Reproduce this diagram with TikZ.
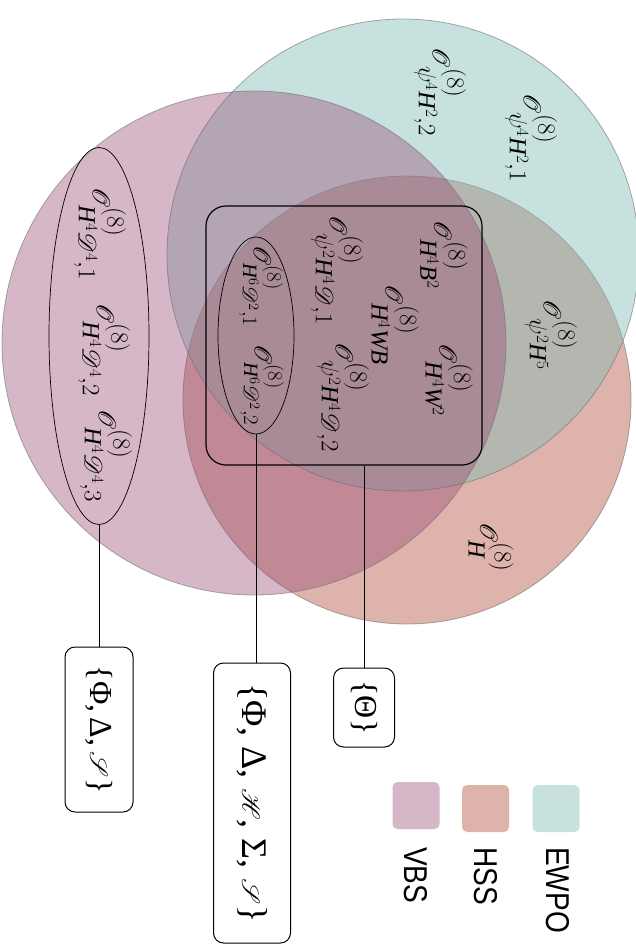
\documentclass[tikz,border=0pt]{standalone}
\usepackage{amsmath}
\usepackage{mathrsfs}
\usepackage{fontspec}
\setmainfont{Liberation Serif}
\usetikzlibrary{shapes.geometric}
\newfontfamily\legendfont[FakeStretch=0.85]{Liberation Sans}
\definecolor{vbscol}{RGB}{150,75,117}
\definecolor{hsscol}{RGB}{172,67,47}
\definecolor{ewpocol}{RGB}{132,190,182}
\newcommand{\opsize}{\fontsize{35}{37}\selectfont}
\newcommand{\Oop}[1]{$\mathscr{O}^{(8)}_{#1}$}
\newcommand{\Hv}{\mathit{H}}
\newcommand{\Dv}{\mathscr{D}}
\begin{document}
\begin{tikzpicture}[x=1pt,y=-1pt,
  setdisc/.style={draw=black!55, draw opacity=0.6, line width=0.8pt},
  oplabel/.style={rotate=-90, font=\opsize, inner sep=0pt},
  smallop/.style={rotate=-90, font=\fontsize{29}{31}\selectfont, inner sep=0pt},
  group/.style={draw, ellipse, line width=0.7pt, inner sep=0pt},
  setbox/.style={draw, rotate=-90, rounded corners=10pt, line width=1pt, font=\fontsize{32}{34}\selectfont, inner sep=2pt},
  legsq/.style={rounded corners=5pt, minimum size=47pt, inner sep=0pt},
  leglab/.style={rotate=-90, anchor=west, inner sep=0pt, font=\legendfont\fontsize{33}{35}\selectfont}]
\useasboundingbox (0,0) rectangle (636,945);
\fill[white] (0,0) rectangle (636,945);

% the three sets, HSS below EWPO below VBS
\path[setdisc, fill=hsscol, fill opacity=0.4] (407,400) circle[radius=224];
\path[setdisc, fill=ewpocol, fill opacity=0.45] (403,255) circle[radius=236];
\path[setdisc, fill=vbscol, fill opacity=0.4] (254,343) circle[radius=252];

% common core and the two groups
\node[draw, line width=1.2pt, rounded corners=20pt, minimum width=276pt, minimum height=259pt] (core) at (344,335.5) {};
\node[group, minimum width=100pt, minimum height=377pt] (dgroup) at (99,336) {};
\node[group, minimum width=76pt, minimum height=197pt] (hgroup) at (256,335.5) {};

% operators
\node[oplabel] (o1) at (440,92) {\Oop{\psi^4\Hv^2,2}};
\node[oplabel] (o2) at (531,138) {\Oop{\psi^4\Hv^2,1}};
\node[oplabel] (o3) at (100,234) {\Oop{\Hv^4\Dv^4,1}};
\node[oplabel] (o4) at (104,350) {\Oop{\Hv^4\Dv^4,2}};
\node[oplabel] (o5) at (106,456) {\Oop{\Hv^4\Dv^4,3}};
\node[oplabel] (o6) at (444,255) {\Oop{\Hv^4\mathit{B}^2}};
\node[oplabel] (o7) at (395,325) {\Oop{\Hv^4\mathit{WB}}};
\node[oplabel] (o8) at (337,270) {\Oop{\psi^2\Hv^4\Dv,1}};
\node[oplabel] (o9) at (449,380) {\Oop{\Hv^4\mathit{W}^2}};
\node[oplabel] (o10) at (343,397) {\Oop{\psi^2\Hv^4\Dv,2}};
\node[smallop] (o11) at (261,286) {\Oop{\Hv^6\Dv^2,1}};
\node[smallop] (o12) at (262,385) {\Oop{\Hv^6\Dv^2,2}};
\node[oplabel] (o13) at (551,335) {\Oop{\psi^2\Hv^5}};
\node[oplabel] (o14) at (491,547) {\Oop{\Hv}};

% parameter sets
\node[setbox, minimum width=165pt, minimum height=68pt] (pA) at (99,729.5) {\{Φ,\,Δ,\,$\mathscr{S}$\}};
\node[setbox, minimum width=280pt, minimum height=77pt, font=\fontsize{36}{38}\selectfont] (pB) at (252,803) {\{Φ,\;Δ,\;$\mathscr{H}$,\;Σ,\;$\mathscr{S}$\}};
\node[setbox, minimum width=79pt, minimum height=61pt] (pC) at (364,707.5) {\{Θ\}};

\draw[line width=1pt] (dgroup.south) -- (dgroup.south |- pA.west);
\draw[line width=1pt] (hgroup.south) -- (hgroup.south |- pB.west);
\draw[line width=1pt] (pC.west |- core.south) -- (pC.west);

% legend
\node[legsq, fill=vbscol, fill opacity=0.4] (kv) at (416,805.5) {};
\node[legsq, fill=hsscol, fill opacity=0.4] (kh) at (485.5,808.5) {};
\node[legsq, fill=ewpocol, fill opacity=0.45] (ke) at (556,808.5) {};
\node[leglab] (lv) at (416,847) {VBS};
\node[leglab] (lh) at (486,847) {HSS};
\node[leglab] (le) at (558,847) {EWPO};
\end{tikzpicture}
\end{document}
